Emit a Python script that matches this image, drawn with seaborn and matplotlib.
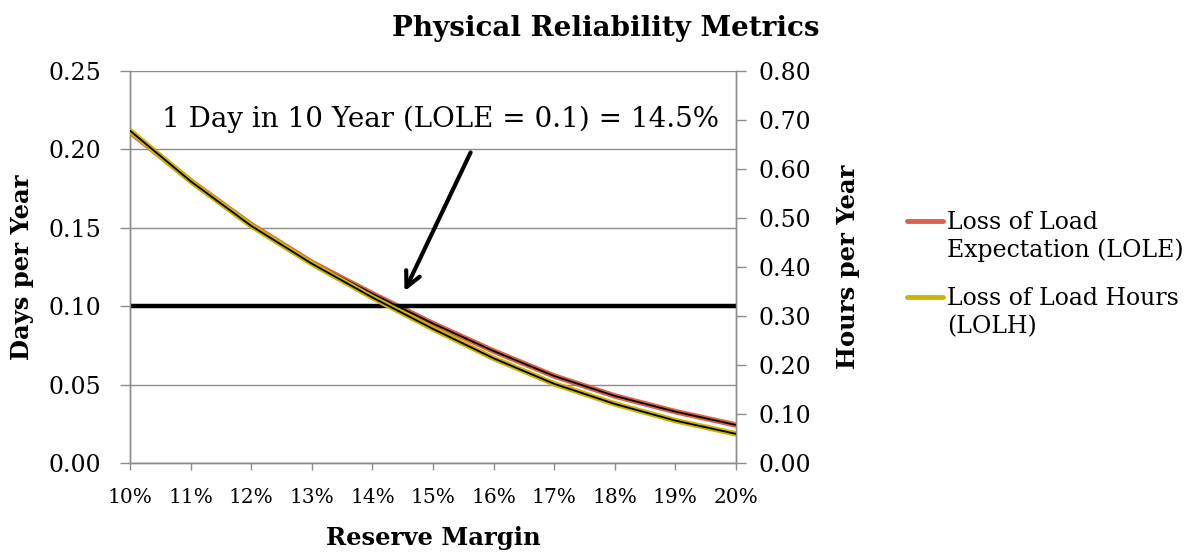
import matplotlib
matplotlib.use("Agg")
import matplotlib.pyplot as plt
import seaborn as sns
import pandas as pd
from matplotlib.lines import Line2D

# ---- data ----
reserve_margin = [10, 11, 12, 13, 14, 15, 16, 17, 18, 19, 20]          # %
lole_days = [0.211, 0.180, 0.152, 0.128, 0.108, 0.089, 0.0715, 0.0556, 0.0429, 0.0329, 0.0244]
lolh_hours = [0.678, 0.575, 0.484, 0.407, 0.338, 0.274, 0.214, 0.162, 0.121, 0.087, 0.060]
target_lole = 0.1
x_tick_labels = [f"{v}%" for v in reserve_margin]
left_ticks = [0.00, 0.05, 0.10, 0.15, 0.20, 0.25]
right_ticks = [0.0, 0.1, 0.2, 0.3, 0.4, 0.5, 0.6, 0.7, 0.8]
series_labels = ["Loss of Load\nExpectation (LOLE)", "Loss of Load Hours\n(LOLH)"]

df = pd.DataFrame({"rm": reserve_margin, "lole": lole_days, "lolh": lolh_hours})

sns.set_theme(style="white")
plt.rcParams["font.family"] = ["DejaVu Serif"]
plt.rcParams["text.color"] = "black"
plt.rcParams["axes.labelcolor"] = "black"
plt.rcParams["xtick.color"] = "black"
plt.rcParams["ytick.color"] = "black"

LOLE_C = "#D9634A"
LOLH_C = "#CCB500"
GRID = "#8C8C8C"
W, H = 1187, 552

fig = plt.figure(figsize=(W / 100, H / 100), dpi=100)
ax = fig.add_axes([130 / W, 1 - 463.3 / H, (736 - 130) / W, (463.3 - 70.8) / H])
ax2 = ax.twinx()

# left axis: LOLE
sns.lineplot(data=df, x="rm", y="lole", ax=ax, color=LOLE_C, linewidth=4, zorder=3)
sns.lineplot(data=df, x="rm", y="lole", ax=ax, color="black", linewidth=1.3, zorder=4)
ax.axhline(target_lole, color="black", linewidth=3.2, zorder=5)

# right axis: LOLH
sns.lineplot(data=df, x="rm", y="lolh", ax=ax2, color=LOLH_C, linewidth=4, zorder=3)
sns.lineplot(data=df, x="rm", y="lolh", ax=ax2, color="black", linewidth=1.3, zorder=4)

ax.set_xlim(10, 20)
ax.set_ylim(0, 0.25)
ax2.set_ylim(0, 0.8)
ax.set_xticks(reserve_margin)
ax.set_xticklabels(x_tick_labels, fontsize=14.5)
ax.set_yticks(left_ticks)
ax.set_yticklabels([f"{v:.2f}" for v in left_ticks], fontsize=17)
ax2.set_yticks(right_ticks)
ax2.set_yticklabels([f"{v:.2f}" for v in right_ticks], fontsize=17)

ax.yaxis.grid(True, color=GRID, linewidth=1)
ax.xaxis.grid(False)
ax2.grid(False)

for a in (ax, ax2):
    a.spines["top"].set_visible(False)
    for s in ("left", "right", "bottom"):
        a.spines[s].set_color(GRID)
        a.spines[s].set_linewidth(1)
ax.tick_params(axis="y", direction="out", length=7, color=GRID, width=1, left=True, pad=14,
               labelcolor="black")
ax.tick_params(axis="x", direction="out", length=5, color=GRID, width=1, bottom=True, pad=13,
               labelcolor="black")
ax2.tick_params(axis="y", direction="out", length=7, color=GRID, width=1, right=True, pad=9,
                labelcolor="black")

ax.set_xlabel("Reserve Margin", fontsize=17.5, fontweight="bold")
ax.set_ylabel("Days per Year", fontsize=17.5, fontweight="bold")
ax2.set_ylabel("Hours per Year", fontsize=17.5, fontweight="bold")
ax.xaxis.set_label_coords((433 - 130) / (736 - 130), -(538 - 463.3) / (463.3 - 70.8))
ax.xaxis.label.set_va("center")
ax.yaxis.set_label_coords(-(130 - 22) / (736 - 130), 0.5)
ax.yaxis.label.set_va("center")
ax2.yaxis.set_label_coords((848 - 130) / (736 - 130), 0.5)
ax2.yaxis.label.set_va("center")

fig.text(606 / W, 1 - 29 / H, "Physical Reliability Metrics", ha="center", va="center",
         fontsize=20, fontweight="bold")

ax.text(10.52, 0.2144, "1 Day in 10 Year (LOLE = 0.1) = 14.5%", ha="left", va="baseline",
        fontsize=20, zorder=6)
ax.annotate("", xy=(14.51, 0.108), xytext=(15.64, 0.1996),
            arrowprops=dict(arrowstyle="->,head_length=0.9,head_width=0.45", color="black", lw=3),
            zorder=6)

# legend (Excel style: marker aligned with the first text line)
legend_rows = [(series_labels[0], LOLE_C, 221), (series_labels[1], LOLH_C, 297)]
for label, col, ypx in legend_rows:
    fig.add_artist(Line2D([907 / W, 943 / W], [1 - ypx / H, 1 - ypx / H], color=col,
                          linewidth=3.5, transform=fig.transFigure))
    for i, part in enumerate(label.split("\n")):
        fig.text(947 / W, 1 - (ypx + 8 + 28 * i) / H, part, ha="left", va="baseline",
                 fontsize=17)

fig.savefig("out.png", dpi=100)
